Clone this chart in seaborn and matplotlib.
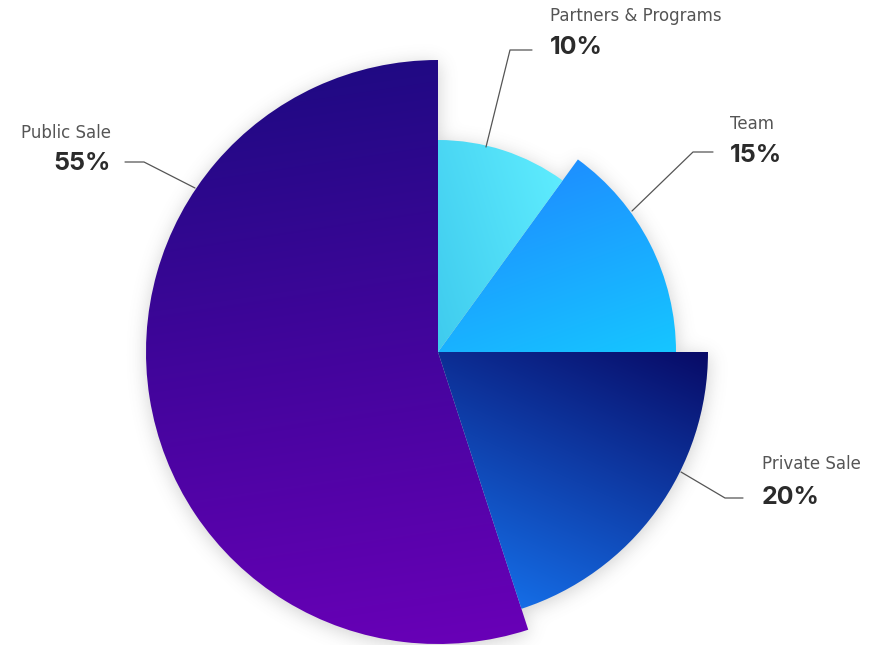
import numpy as np
import matplotlib
matplotlib.use("Agg")
import matplotlib.pyplot as plt
import seaborn as sns
from matplotlib.colors import to_rgb

# ---------------- data ----------------
categories = ["Public Sale", "Private Sale", "Team", "Partners & Programs"]
shares = [55, 20, 15, 10]
pct_labels = ["55%", "20%", "15%", "10%"]

# ---------------- style / layout ----------------
W, H = 872, 645
CX, CY = 438, H - 352
radii = [292, 270, 238, 212]
grads = [  # start colour, end colour, direction (dx, dy) with y pointing down
    ("#1b0a80", "#6a00b8", (0.15, 1.0)),
    ("#080a66", "#1678f4", (-0.45, 1.0)),
    ("#1f84ff", "#16c6ff", (0.35, 1.0)),
    ("#3fcbee", "#60eeff", (1.0, -0.3)),
]
# label layout: (x, y_title, y_pct, ha) in pixel coords (y down)
label_pos = [
    (111, 133, 164, "right"),
    (762, 464, 497, "left"),
    (730, 124, 156, "left"),
    (550, 16, 48, "left"),
]
leaders = [
    [(125, 162), (144, 162), (195, 188)],
    [(743, 498), (725, 498), (681, 472)],
    [(713, 152), (693, 152), (632, 211)],
    [(532, 50), (510, 50), (486, 147)],
]

sns.set_theme(style="white")
plt.rcParams['font.family'] = ['Inter', 'DejaVu Sans']

fig = plt.figure(figsize=(W / 100, H / 100), dpi=100)
fig.patch.set_facecolor("white")
ax = fig.add_axes([0, 0, 1, 1])
ax.set_facecolor("white")

# ---------------- soft shadow ----------------
xs = np.arange(W) + 0.5
ys = H - (np.arange(H) + 0.5)
XX, YY = np.meshgrid(xs, ys)
ang = (np.degrees(np.arctan2(YY - CY, XX - CX)) - 90.0) % 360.0
bounds = np.cumsum(shares) / np.sum(shares) * 360.0
idx = np.clip(np.searchsorted(bounds, ang), 0, len(shares) - 1)
dist = np.hypot(XX - CX, YY - CY)
mask = (dist < np.array(radii)[idx]).astype(float)

sigma = 9.0
k = np.arange(-30, 31)
kern = np.exp(-k ** 2 / (2 * sigma ** 2))
kern /= kern.sum()
blur = np.apply_along_axis(lambda v: np.convolve(v, kern, mode="same"), 1, mask)
blur = np.apply_along_axis(lambda v: np.convolve(v, kern, mode="same"), 0, blur)
shifted = np.zeros_like(blur)
shifted[3:, :] = blur[:-3, :]
shadow = np.zeros((H, W, 4))
shadow[..., :3] = 0.35
shadow[..., 3] = shifted * 0.28
ax.imshow(shadow, extent=(0, W, 0, H), origin="upper", zorder=0, interpolation="bilinear")

# ---------------- wedges with gradients ----------------
for i in range(len(shares)):
    wedges, _ = ax.pie(shares, radius=radii[i], center=(CX, CY), startangle=90,
                       counterclock=True, wedgeprops=dict(linewidth=0))
    for j, w in enumerate(wedges):
        if j != i:
            w.set_visible(False)
    w = wedges[i]
    w.set_facecolor("none")
    w.set_zorder(2)
    v = w.get_path().vertices
    x0, x1 = v[:, 0].min(), v[:, 0].max()
    y0, y1 = v[:, 1].min(), v[:, 1].max()
    nw, nh = int(x1 - x0) + 2, int(y1 - y0) + 2
    gx, gy = np.meshgrid(np.linspace(0, 1, nw), np.linspace(0, 1, nh))
    c0, c1, (dx, dy) = grads[i]
    t = gx * (x1 - x0) * dx + gy * (y1 - y0) * dy
    t = (t - t.min()) / (t.max() - t.min())
    c0, c1 = np.array(to_rgb(c0)), np.array(to_rgb(c1))
    img = c0[None, None, :] * (1 - t[..., None]) + c1[None, None, :] * t[..., None]
    im = ax.imshow(img, extent=(x0, x1, y0, y1), origin="upper", zorder=1 + i * 0.1,
                   interpolation="bilinear")
    im.set_clip_path(w)

# ---------------- labels ----------------
for i, cat in enumerate(categories):
    x, yt, yp, ha = label_pos[i]
    ax.text(x, H - yt, cat, ha=ha, va="center", fontsize=12, color="#555555",
            family=["DejaVu Sans"], zorder=5)
    ax.text(x, H - yp, pct_labels[i], ha=ha, va="center", fontsize=18,
            fontweight="bold", color="#2b2b2b", zorder=5)
    pts = np.array(leaders[i], dtype=float)
    ax.plot(pts[:, 0], H - pts[:, 1], color="#555555", lw=0.9, zorder=5)

ax.set_xlim(0, W)
ax.set_ylim(0, H)
ax.set_aspect("equal")
ax.axis("off")
fig.savefig("out.png", dpi=100, facecolor="white")
